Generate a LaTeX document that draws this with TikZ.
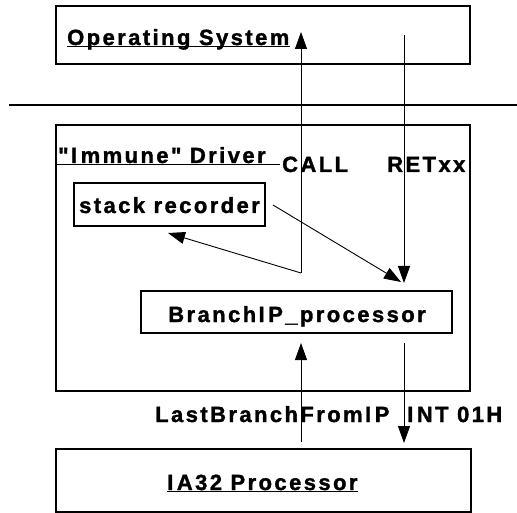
\documentclass[tikz,border=0pt]{standalone}
\usepackage{fontspec}
\setmainfont{Liberation Sans}[LetterSpace=11, Ligatures=TeXOff, BoldFeatures={FakeBold=1.5}]
\usetikzlibrary{arrows.meta}
% capital I as set in the labels, with its wide trailing gap
\newcommand{\Iw}{I\kern3.5pt}
\begin{document}
\begin{tikzpicture}[x=1pt,y=-1pt,
  box/.style={draw, line width=1.1pt, inner sep=0pt},
  lbl/.style={inner sep=0pt, font=\fontsize{22}{25}\selectfont\bfseries},
  uline/.style={line width=0.9pt},
  arr/.style={line width=0.9pt, -{Triangle[length=17pt,width=12pt]}},
  rule/.style={line width=1.1pt}]
\useasboundingbox (0,0) rectangle (517,513);

% boxes
\node[box, minimum width=414pt, minimum height=58pt] (os) at (263,35) {};
\node[box, minimum width=414pt, minimum height=266pt] (drv) at (263,258) {};
\node[box, minimum width=191pt, minimum height=43pt] (stack) at (169.5,204.5) {};
\node[box, minimum width=311pt, minimum height=42pt] (bip) at (296.5,312) {};
\node[box, minimum width=415pt, minimum height=63pt] (cpu) at (263.5,480.5) {};

% separator between user level and driver level
\coordinate (sepL) at (9,105);
\coordinate (sepR) at (517,105);
\draw[rule] (sepL) -- (sepR);

% texts
\node[lbl, anchor=base west] (ostext) at (67,45) {Operating System};
\draw[uline] ([yshift=-1.5pt]ostext.base west) -- ([yshift=-1.5pt]ostext.base east);

\node[lbl, anchor=base west] (drvtext) at (58,163) {"\Iw mmune" Driver};
\coordinate (drvulL) at (57,164.5);
\coordinate (drvulR) at (280,164.5);
\draw[uline] (drvulL) -- (drvulR);

\node[lbl, anchor=base west] (call) at (282,172) {CALL};
\node[lbl, anchor=base west] (ret) at (387,172) {RETxx};

\node[lbl, anchor=base] (stacktext) at (169.5,213) {stack recorder};
\node[lbl, anchor=base] (biptext) at (297,322) {Branch\Iw P\_processor};

\node[lbl, anchor=base west] (lbfip) at (155,422) {LastBranchFrom\Iw P};
\node[lbl, anchor=base west] (int) at (407,422) {\Iw NT 01H};

\node[lbl, anchor=base west] (cputext) at (167,490) {\Iw A32 Processor};
\draw[uline] ([yshift=-1.5pt]cputext.base west) -- ([yshift=-1.5pt]cputext.base east);

% connector end points
\coordinate (callTop) at (301,32);
\coordinate (callBot) at (301,273);
\coordinate (stackIn) at (168,233);
\coordinate (retTop) at (404,35);
\coordinate (retBot) at (404,283);
\coordinate (stackOut) at (273,205);
\coordinate (bipIn) at (401,282);
\coordinate (upBot) at (301,442);
\coordinate (upTop) at (301,343);
\coordinate (dnTop) at (404,343);
\coordinate (dnBot) at (404,443);

% connectors
\draw[arr] (callBot) -- (callTop);
\draw[arr] (callBot) -- (stackIn);
\draw[arr] (retTop) -- (retBot);
\draw[arr] (stackOut) -- (bipIn);
\draw[arr] (upBot) -- (upTop);
\draw[arr] (dnTop) -- (dnBot);
\end{tikzpicture}
\end{document}
